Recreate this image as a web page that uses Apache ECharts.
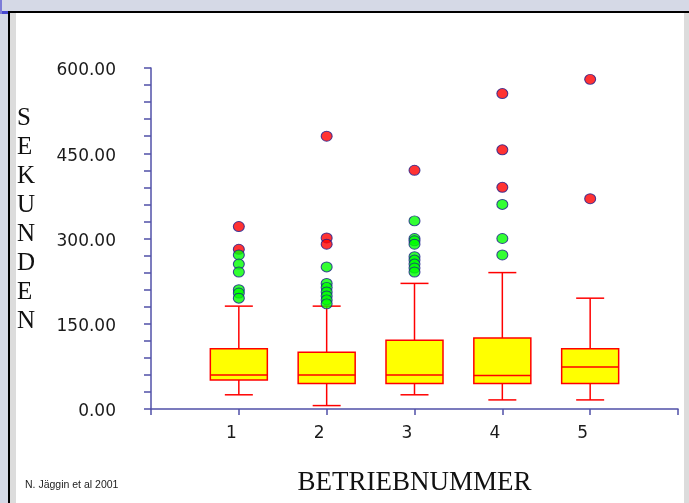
<!DOCTYPE html>
<html>

<head>
    <meta charset="utf-8">
    <title>Betriebnummer Boxplot</title>
    <style>
        html,
        body {
            margin: 0;
            padding: 0;
            background: #fff;
        }

        #chart {
            width: 689px;
            height: 503px;
        }
    </style>
</head>

<body>
    <div id="chart"></div>
</body>
<script type="text/javascript" src="https://cdn.jsdelivr.net/npm/echarts@6.0.0/dist/echarts.min.js"></script>
<script type="text/javascript">
    // Kategorien (leere Enden, damit die Achse von 0 bis 6 geht)
    var categories = ['', '1', '2', '3', '4', '5', ''];
    var boxIndex = [1, 2, 3, 4, 5];

    // Boxplot-Werte pro Betrieb (Sekunden)
    var lowWhisker = [25, 6, 25, 16, 16];
    var quart1 = [51, 45, 45, 45, 45];
    var median = [60, 60, 60, 59, 74];
    var quart3 = [106, 100, 121, 125, 106];
    var highWhisker = [181, 181, 221, 240, 195];

    // Ausreisser [Betrieb, Sekunden]
    var greenOutliers = [
        [1, 271], [1, 255], [1, 241], [1, 210], [1, 204], [1, 195],
        [2, 250], [2, 221], [2, 214], [2, 206], [2, 199], [2, 192], [2, 185],
        [3, 331], [3, 300], [3, 296], [3, 290], [3, 268], [3, 262], [3, 255], [3, 248], [3, 241],
        [4, 360], [4, 300], [4, 271]
    ];
    var redOutliers = [
        [1, 321], [1, 281],
        [2, 480], [2, 301], [2, 290],
        [3, 420],
        [4, 555], [4, 456], [4, 390],
        [5, 580], [5, 370]
    ];

    // y-Achse
    var yTicks = [0, 150, 300, 450, 600];

    var boxData = []
    for (var i = 0; i < boxIndex.length; i++) {
        boxData.push([boxIndex[i], lowWhisker[i], quart1[i], median[i], quart3[i], highWhisker[i]])
    }

    // Box mit Whiskern zeichnen
    function renderBox(params, api) {
        var x = api.value(0);
        var low = api.coord([x, api.value(1)]);
        var q1 = api.coord([x, api.value(2)]);
        var med = api.coord([x, api.value(3)]);
        var q3 = api.coord([x, api.value(4)]);
        var high = api.coord([x, api.value(5)]);
        var bw = 57;
        var cw = 28;
        var cx = low[0];
        var lineStyle = { stroke: '#ff0000', lineWidth: 1.5 };
        return {
            type: 'group',
            children: [{
                type: 'line',
                shape: { x1: cx, y1: low[1], x2: cx, y2: q1[1] },
                style: lineStyle
            }, {
                type: 'line',
                shape: { x1: cx, y1: q3[1], x2: cx, y2: high[1] },
                style: lineStyle
            }, {
                type: 'line',
                shape: { x1: cx - cw / 2, y1: low[1], x2: cx + cw / 2, y2: low[1] },
                style: lineStyle
            }, {
                type: 'line',
                shape: { x1: cx - cw / 2, y1: high[1], x2: cx + cw / 2, y2: high[1] },
                style: lineStyle
            }, {
                type: 'rect',
                shape: { x: cx - bw / 2, y: q3[1], width: bw, height: q1[1] - q3[1] },
                style: { fill: '#ffff00', stroke: '#ff0000', lineWidth: 1.5 }
            }, {
                type: 'line',
                shape: { x1: cx - bw / 2, y1: med[1], x2: cx + bw / 2, y2: med[1] },
                style: lineStyle
            }]
        };
    }

    var myChart = echarts.init(document.getElementById('chart'));
    var axisColor = '#5050a8';
    option = {
        animation: false,
        backgroundColor: '#ffffff',
        grid: {
            left: 151,
            right: 11,
            top: 68,
            bottom: 94
        },
        title: [{
            text: 'S\nE\nK\nU\nN\nD\nE\nN',
            left: 17,
            top: 104,
            padding: 0,
            textStyle: {
                fontFamily: 'Liberation Serif',
                fontSize: 25,
                fontWeight: 'normal',
                lineHeight: 29,
                color: '#111'
            }
        }, {
            text: 'N. Jäggin et al 2001',
            left: 25,
            top: 480,
            padding: 0,
            textStyle: {
                fontFamily: 'Liberation Sans',
                fontSize: 10.5,
                fontWeight: 'normal',
                color: '#222'
            }
        }],
        graphic: [
            // Rahmen
            { type: 'rect', shape: { x: 0, y: 0, width: 689, height: 11 }, style: { fill: '#d5d9e6' }, silent: true },
            { type: 'rect', shape: { x: 0, y: 11, width: 8, height: 492 }, style: { fill: '#d5d9e6' }, silent: true },
            { type: 'rect', shape: { x: 0, y: 11, width: 8, height: 3 }, style: { fill: '#4848d0' }, silent: true },
            { type: 'rect', shape: { x: 0, y: 0, width: 2, height: 14 }, style: { fill: '#7c7cd8' }, silent: true },
            { type: 'rect', shape: { x: 8, y: 11, width: 681, height: 2 }, style: { fill: '#000000' }, silent: true },
            { type: 'rect', shape: { x: 8, y: 11, width: 2, height: 492 }, style: { fill: '#000000' }, silent: true },
            { type: 'rect', shape: { x: 10, y: 13, width: 6, height: 490 }, style: { fill: '#dcdcdc' }, silent: true },
            { type: 'rect', shape: { x: 684, y: 13, width: 5, height: 490 }, style: { fill: '#dcdcdc' }, silent: true }
        ],
        xAxis: {
            type: 'category',
            data: categories,
            boundaryGap: false,
            name: 'BETRIEBNUMMER',
            nameLocation: 'middle',
            nameGap: 60,
            nameTextStyle: {
                fontFamily: 'Liberation Serif',
                fontSize: 27,
                color: '#111'
            },
            axisLine: {
                lineStyle: { color: axisColor, width: 1.5 }
            },
            axisTick: {
                show: true,
                interval: 0,
                length: 6,
                lineStyle: { color: axisColor, width: 1.5 }
            },
            axisLabel: {
                interval: 0,
                margin: 16,
                formatter: function(v) {
                    return v ? '{a|' + v + '}' : '';
                },
                rich: {
                    a: {
                        fontFamily: 'DejaVu Sans',
                        fontSize: 17,
                        color: '#1a1a1a',
                        padding: [0, 15, 0, 0]
                    }
                }
            },
            splitLine: { show: false }
        },
        yAxis: {
            type: 'value',
            min: yTicks[0],
            max: yTicks[yTicks.length - 1],
            interval: yTicks[1] - yTicks[0],
            axisLine: {
                show: true,
                lineStyle: { color: axisColor, width: 1.5 }
            },
            axisTick: {
                show: true,
                length: 7,
                lineStyle: { color: axisColor, width: 1.5 }
            },
            minorTick: {
                show: true,
                splitNumber: 5,
                length: 7,
                lineStyle: { color: axisColor, width: 1.5 }
            },
            axisLabel: {
                margin: 35,
                formatter: function(v) {
                    return '{a|' + v.toFixed(2) + '}';
                },
                rich: {
                    a: {
                        fontFamily: 'DejaVu Sans',
                        fontSize: 17,
                        color: '#1a1a1a',
                        padding: [6, 0, 0, 0]
                    }
                }
            },
            splitLine: { show: false }
        },
        series: [{
            type: 'custom',
            name: 'box',
            renderItem: renderBox,
            encode: { x: 0, y: [1, 2, 3, 4, 5] },
            data: boxData,
            z: 2
        }, {
            type: 'scatter',
            name: 'rot',
            data: redOutliers,
            symbol: 'circle',
            symbolSize: [11, 10],
            itemStyle: {
                color: '#ff0000',
                borderColor: '#1c1c8c',
                borderWidth: 1
            },
            z: 3
        }, {
            type: 'scatter',
            name: 'gruen',
            data: greenOutliers,
            symbol: 'circle',
            symbolSize: [11, 10],
            itemStyle: {
                color: '#00ff00',
                borderColor: '#1c1c8c',
                borderWidth: 1
            },
            z: 4
        }]
    };
    myChart.setOption(option);
</script>

</html>
